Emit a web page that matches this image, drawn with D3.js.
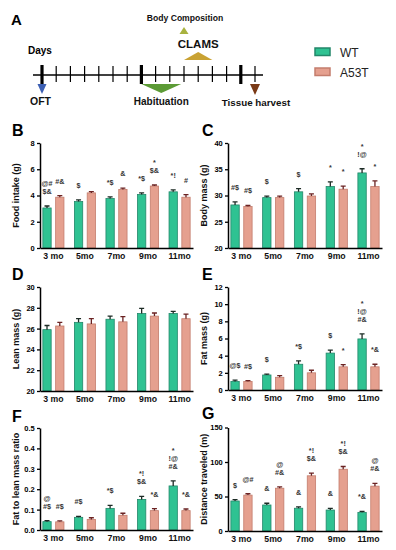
<!DOCTYPE html>
<html>
<head>
<meta charset="utf-8">
<script src="https://cdn.jsdelivr.net/npm/d3@7"></script>
<style>
  body { margin: 0; background: #fff; }
  svg { font-family: "Liberation Sans", Arial, sans-serif; }
</style>
</head>
<body>
<svg id="chart" width="396" height="550"></svg>
<script>
// ---- data ----
const months = ["3 mo", "5mo", "7mo", "9mo", "11mo"];
const groups = ["WT", "A53T"];

const foodWT = [3.05, 3.54, 3.77, 4.08, 4.28];
const foodWTErr = [0.15, 0.12, 0.12, 0.12, 0.15];
const foodA53T = [3.87, 4.2, 4.46, 4.72, 3.87];
const foodA53TErr = [0.12, 0.1, 0.1, 0.08, 0.2];
const foodWTSig = [["@#", "$&"], ["$"], ["*$"], ["*$"], ["*!"]];
const foodA53TSig = [["#&"], [], ["&"], ["*", "$&"], ["#"]];

const bodyWT = [28.2, 29.6, 30.7, 31.7, 34.3];
const bodyWTErr = [0.6, 0.3, 0.6, 0.9, 0.8];
const bodyA53T = [27.9, 29.6, 29.9, 31.2, 31.7];
const bodyA53TErr = [0.2, 0.3, 0.4, 0.6, 1.1];
const bodyWTSig = [["#$"], ["$"], ["$"], ["*"], ["*", "!@"]];
const bodyA53TSig = [["#$"], [], [], ["*"], ["*"]];

const leanWT = [25.9, 26.6, 26.9, 27.45, 27.45];
const leanWTErr = [0.4, 0.35, 0.3, 0.5, 0.2];
const leanA53T = [26.25, 26.45, 26.65, 27.2, 26.95];
const leanA53TErr = [0.35, 0.5, 0.5, 0.3, 0.45];

const fatWT = [1.0, 1.75, 3.0, 4.3, 5.95];
const fatWTErr = [0.15, 0.1, 0.4, 0.35, 0.6];
const fatA53T = [1.0, 1.48, 2.0, 2.7, 2.7];
const fatA53TErr = [0.1, 0.2, 0.3, 0.25, 0.3];
const fatWTSig = [["@$"], ["$"], ["*$"], ["$"], ["*", "!@", "#&"]];
const fatA53TSig = [["#$"], [], [], ["*"], ["*&"]];

const ratioWT = [0.041, 0.062, 0.106, 0.15, 0.216];
const ratioWTErr = [0.005, 0.005, 0.015, 0.015, 0.025];
const ratioA53T = [0.04, 0.052, 0.072, 0.095, 0.095];
const ratioA53TErr = [0.005, 0.008, 0.01, 0.01, 0.008];
const ratioWTSig = [["@", "#$"], ["#$"], ["*$"], ["*!", "$&"], ["*", "!@", "#&"]];
const ratioA53TSig = [["#$"], [], [], ["*&"], ["*&"]];

const distWT = [43.5, 37.7, 33, 30.4, 27];
const distWTErr = [2, 2.5, 2, 2.5, 1.5];
const distA53T = [52, 62, 80, 89.5, 65];
const distA53TErr = [2, 2, 4, 4, 4];
const distWTSig = [["$"], ["&"], ["&"], ["&"], ["*&"]];
const distA53TSig = [["@#"], ["@", "#&"], ["*!", "$&"], ["*!", "$&"], ["@", "#&"]];

// timeline (panel A)
const dayTicks = d3.range(0, 16);
const thickDays = [0, 7, 14];

const colors = { WT: "#2fc292", A53T: "#e5a08f" };
const strokes = { WT: "#23876a", A53T: "#c47d6d" };
const errColors = { WT: "#1c2b25", A53T: "#6b2323" };

const svg = d3.select("#chart");

// ---- panel letters ----
const letters = [["A", 11, 25, 15], ["B", 12, 136, 16], ["C", 202, 136, 16],
  ["D", 12, 280, 16], ["E", 202, 280, 16], ["F", 12, 422, 16], ["G", 202, 419, 16]];
svg.selectAll(".letter").data(letters).join("text")
  .attr("x", d => d[1]).attr("y", d => d[2])
  .attr("font-size", d => d[3]).attr("font-weight", "bold")
  .text(d => d[0]);

// ---- panel A: timeline ----
const t = d3.scaleLinear().domain([0, 15]).range([42, 255]);
const gA = svg.append("g");
gA.append("line").attr("x1", 33).attr("x2", 263).attr("y1", 75).attr("y2", 75)
  .attr("stroke", "#000").attr("stroke-width", 1.5);
gA.selectAll(".dt").data(dayTicks).join("line")
  .attr("x1", d => t(d)).attr("x2", d => t(d))
  .attr("y1", d => thickDays.includes(d) ? 65 : 66)
  .attr("y2", d => thickDays.includes(d) ? 84 : 82)
  .attr("stroke", "#000")
  .attr("stroke-width", d => thickDays.includes(d) ? 3.2 : 1.2);

gA.append("text").attr("x", 28).attr("y", 54).attr("font-size", 10).attr("font-weight", "bold").text("Days");

function tri(x1, x2, yBase, yTip, fill) {
  gA.append("path")
    .attr("d", `M${x1},${yBase}L${x2},${yBase}L${(x1 + x2) / 2},${yTip}Z`)
    .attr("fill", fill);
}
tri(t(0) - 4.5, t(0) + 4.5, 84, 94, "#3c5fb3");
tri(t(7), t(9.8), 84, 93, "#5c9b36");
tri(t(15) - 5, t(15) + 5, 84, 95, "#7a3a17");
tri(t(10), t(12), 60, 52, "#c9a233");
tri(t(10) - 4.5, t(10) + 4.5, 34, 27, "#a8b23f");

const aTexts = [["OFT", t(0) - 1.5, 105, 10.5], ["Habituation", t(8.4), 105, 10],
  ["Tissue harvest", 256, 106, 9.8], ["CLAMS", t(11), 48, 11.5], ["Body Composition", 185, 21, 8.6]];
gA.selectAll(".at").data(aTexts).join("text")
  .attr("x", d => d[1]).attr("y", d => d[2]).attr("font-size", d => d[3])
  .attr("font-weight", "bold").attr("text-anchor", "middle").attr("fill", "#111")
  .text(d => d[0]);

// legend
const leg = svg.append("g");
groups.forEach((g, i) => {
  leg.append("rect").attr("x", 315).attr("y", 48 + i * 20).attr("width", 15).attr("height", 7.5)
    .attr("fill", colors[g]).attr("stroke", strokes[g]).attr("stroke-width", 1.5);
  leg.append("text").attr("x", 340).attr("y", 57 + i * 20).attr("font-size", 12).attr("fill", "#222").text(g);
});

// ---- bar panels ----
function barPanel(cfg) {
  const g = svg.append("g");
  const x0 = d3.scaleBand().domain(months).range([cfg.left, cfg.right]).paddingInner(0.25).paddingOuter(0.05);
  const x1 = d3.scaleBand().domain(groups).range([0, x0.bandwidth()]).paddingInner(0.35).paddingOuter(0.1);
  const y = d3.scaleLinear().domain(cfg.domain).range([cfg.bottom, cfg.top]);

  const rows = [];
  months.forEach((m, i) => {
    rows.push({ m, grp: "WT", v: cfg.wt[i], e: cfg.wtErr[i], sig: cfg.wtSig ? cfg.wtSig[i] : [] });
    rows.push({ m, grp: "A53T", v: cfg.a53t[i], e: cfg.a53tErr[i], sig: cfg.a53tSig ? cfg.a53tSig[i] : [] });
  });

  g.selectAll(".bar").data(rows).join("rect")
    .attr("x", d => x0(d.m) + x1(d.grp))
    .attr("width", x1.bandwidth())
    .attr("y", d => y(d.v))
    .attr("height", d => y(cfg.domain[0]) - y(d.v))
    .attr("fill", d => colors[d.grp])
    .attr("stroke", d => strokes[d.grp]).attr("stroke-width", 0.8);

  const cx = d => x0(d.m) + x1(d.grp) + x1.bandwidth() / 2;
  g.selectAll(".err").data(rows).join("path")
    .attr("d", d => `M${cx(d)},${y(d.v)}V${y(d.v + d.e)}M${cx(d) - 2.5},${y(d.v + d.e)}H${cx(d) + 2.5}`)
    .attr("stroke", d => errColors[d.grp]).attr("stroke-width", 1.3).attr("fill", "none");

  g.selectAll(".sig").data(rows.filter(d => d.sig.length)).join("text")
    .attr("x", cx)
    .attr("y", d => y(d.v + d.e) - 12 - (d.sig.length - 1) * 8)
    .attr("text-anchor", "middle").attr("font-size", 7.2).attr("font-weight", "bold").attr("fill", "#333")
    .each(function (d) {
      d3.select(this).selectAll("tspan").data(d.sig).join("tspan")
        .attr("x", cx(d)).attr("dy", (s, i) => i === 0 ? 0 : 8).text(s => s);
    });

  const yAxis = g.append("g").attr("transform", `translate(${cfg.left},0)`)
    .call(d3.axisLeft(y).tickValues(cfg.ticks).tickSize(3).tickSizeOuter(0).tickFormat(cfg.fmt || d3.format("d")));
  yAxis.select(".domain").attr("stroke-width", 1.5);
  yAxis.selectAll(".tick line").attr("stroke-width", 1.3);
  yAxis.selectAll("text").attr("font-size", 7.5).attr("font-weight", "bold")
    .attr("font-family", "Liberation Sans, Arial, sans-serif").attr("dx", "0.1em");

  const xAxis = g.append("g").attr("transform", `translate(0,${cfg.bottom})`)
    .call(d3.axisBottom(x0).tickSize(0).tickSizeOuter(0).tickPadding(5));
  xAxis.select(".domain").attr("stroke-width", 1.5);
  xAxis.selectAll("text").attr("font-size", 8.7).attr("font-weight", "bold")
    .attr("font-family", "Liberation Sans, Arial, sans-serif").attr("fill", "#111");

  g.append("text")
    .attr("transform", `translate(${cfg.left - 21},${(cfg.top + cfg.bottom) / 2}) rotate(-90)`)
    .attr("text-anchor", "middle").attr("font-size", 9).attr("font-weight", "bold").attr("fill", "#111")
    .text(cfg.title);
}

barPanel({ left: 40, right: 193, top: 143, bottom: 248, domain: [0, 8], ticks: [0, 2, 4, 6, 8],
  wt: foodWT, wtErr: foodWTErr, a53t: foodA53T, a53tErr: foodA53TErr, wtSig: foodWTSig, a53tSig: foodA53TSig,
  title: "Food intake (g)" });
barPanel({ left: 228, right: 382, top: 143, bottom: 248, domain: [20, 40], ticks: [20, 25, 30, 35, 40],
  wt: bodyWT, wtErr: bodyWTErr, a53t: bodyA53T, a53tErr: bodyA53TErr, wtSig: bodyWTSig, a53tSig: bodyA53TSig,
  title: "Body mass (g)" });
barPanel({ left: 40, right: 193, top: 287, bottom: 391, domain: [20, 30], ticks: [20, 22, 24, 26, 28, 30],
  wt: leanWT, wtErr: leanWTErr, a53t: leanA53T, a53tErr: leanA53TErr,
  title: "Lean mass (g)" });
barPanel({ left: 228, right: 382, top: 287, bottom: 390, domain: [0, 12], ticks: [0, 2, 4, 6, 8, 10, 12],
  wt: fatWT, wtErr: fatWTErr, a53t: fatA53T, a53tErr: fatA53TErr, wtSig: fatWTSig, a53tSig: fatA53TSig,
  title: "Fat mass (g)" });
barPanel({ left: 40, right: 193, top: 428, bottom: 530, domain: [0, 0.5], ticks: [0, 0.1, 0.2, 0.3, 0.4, 0.5],
  fmt: d3.format(".1f"),
  wt: ratioWT, wtErr: ratioWTErr, a53t: ratioA53T, a53tErr: ratioA53TErr, wtSig: ratioWTSig, a53tSig: ratioA53TSig,
  title: "Fat to lean mass ratio" });
barPanel({ left: 228, right: 382, top: 427.5, bottom: 531, domain: [0, 150], ticks: [0, 50, 100, 150],
  wt: distWT, wtErr: distWTErr, a53t: distA53T, a53tErr: distA53TErr, wtSig: distWTSig, a53tSig: distA53TSig,
  title: "Distance traveled (m)" });
</script>
</body>
</html>
